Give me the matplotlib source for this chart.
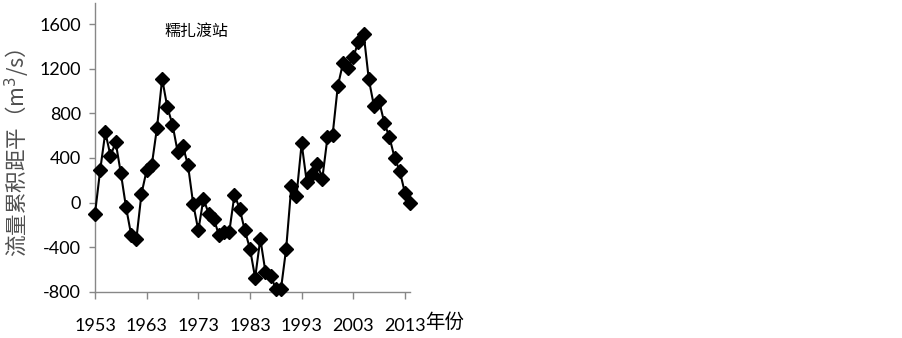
import numpy as np
import matplotlib
matplotlib.use('Agg')
import matplotlib.pyplot as plt

plt.rcParams['font.family'] = ['Lato', 'Noto Sans CJK SC', 'DejaVu Sans']
plt.rcParams['axes.unicode_minus'] = False

years = list(range(1953, 2015))
values = [-100, 290, 630, 420, 540, 265, -40, -290, -330, 80,
          290, 340, 670, 1110, 855, 700, 455, 510, 335, -10,
          -250, 35, -100, -145, -295, -260, -260, 70, -55, -250,
          -415, -675, -325, -625, -655, -775, -775, -415, 145, 60,
          530, 180, 260, 350, 215, 585, 610, 1045, 1250, 1210,
          1310, 1440, 1515, 1105, 865, 910, 715, 585, 400, 280,
          85, 0]
yticks = [-800, -400, 0, 400, 800, 1200, 1600]
xticks = [1953, 1963, 1973, 1983, 1993, 2003, 2013]

fig = plt.figure(figsize=(9.03, 3.38), dpi=100)
ax = fig.add_axes([0.1052, 0.137, 0.349, 0.854])

ax.plot(years, values, color='black', linewidth=1.5, marker='D',
        markersize=6.8, markerfacecolor='black', markeredgecolor='black',
        clip_on=False, zorder=3)

ax.set_xlim(1953, 2014)
ax.set_ylim(-800, 1790)
ax.set_yticks(yticks)
ax.set_xticks(xticks)
ax.set_xticklabels([str(x) for x in xticks])

for s in ['top', 'right']:
    ax.spines[s].set_visible(False)
for s in ['left', 'bottom']:
    ax.spines[s].set_color('#878787')
    ax.spines[s].set_linewidth(1.0)

ax.tick_params(axis='y', direction='out', length=4, width=1, color='#878787',
               labelsize=13, pad=6, labelcolor='black')
ax.tick_params(axis='x', direction='out', length=5, width=1, color='#878787',
               labelsize=13, pad=14, labelcolor='black')

ax.set_ylabel('流量累积距平（m$^3$/s）', family=['Noto Sans CJK SC', 'DejaVu Sans'],
              fontsize=15.5, color='#505050')
ax.yaxis.set_label_coords(-0.2, 0.48)
ax.text(0.22, 0.885, '糯扎渡站', transform=ax.transAxes,
        family=['Noto Sans CJK SC'], fontsize=11.5, color='black')
fig.text(0.471, 0.03, '年份', family=['Noto Sans CJK SC'], fontsize=14,
         color='black')

fig.savefig('out.png', dpi=100)
